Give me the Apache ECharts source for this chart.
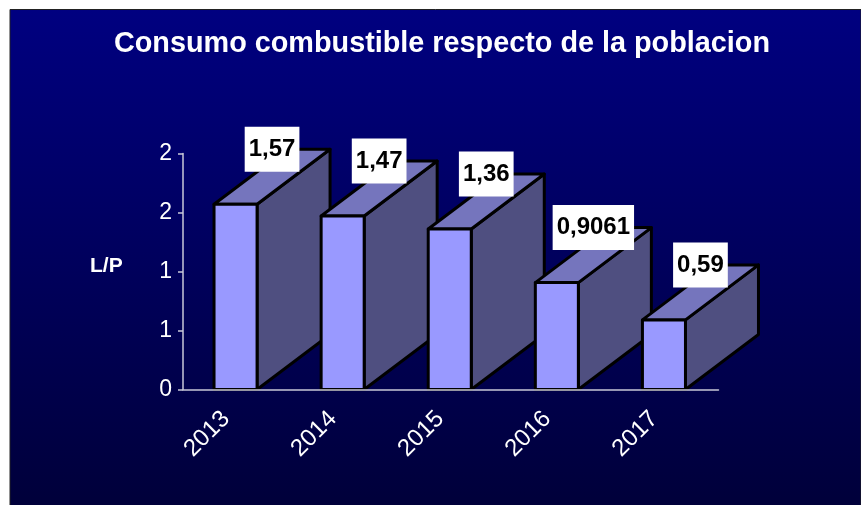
<!DOCTYPE html>
<html>
<head>
<meta charset="utf-8">
<script src="https://cdn.jsdelivr.net/npm/echarts@6/dist/echarts.min.js"></script>
<style>
  html, body { margin: 0; padding: 0; background: #fff; }
  #chart { width: 861px; height: 505px; }
</style>
</head>
<body>
<div id="chart"></div>
<script>
const titleText = "Consumo combustible respecto de la poblacion";
const yAxisName = "L/P";
const years = ["2013", "2014", "2015", "2016", "2017"];
const consumo = [1.57, 1.47, 1.36, 0.9061, 0.59];
const yTickLabels = ["0", "1", "1", "2", "2"];

const FONT = '"Liberation Sans", Arial, sans-serif';
// pseudo 3D offset of the back face, in pixels
const DEPTH_X = 73;
const DEPTH_Y = -55;
const BAR_RATIO = 43 / 107;

var myChart = echarts.init(document.getElementById("chart"));

function renderBar(params, api) {
  const i = api.value(0);
  const top = api.coord([i, api.value(1)]);
  const base = api.coord([i, 0]);
  const w = api.size([1, 0])[0] * BAR_RATIO;
  const x0 = top[0] - w / 2 - 1;
  const x1 = x0 + w;
  const y0 = top[1];
  const y1 = base[1];
  const line = { stroke: "#000", lineWidth: 3, lineJoin: "round" };
  return {
    type: "group",
    children: [
      {
        type: "polygon",
        shape: { points: [[x1, y0], [x1 + DEPTH_X, y0 + DEPTH_Y], [x1 + DEPTH_X, y1 + DEPTH_Y], [x1, y1]] },
        style: Object.assign({ fill: "#4f4f80" }, line),
      },
      {
        type: "polygon",
        shape: { points: [[x0, y0], [x0 + DEPTH_X, y0 + DEPTH_Y], [x1 + DEPTH_X, y0 + DEPTH_Y], [x1, y0]] },
        style: Object.assign({ fill: "#7575bd" }, line),
      },
      {
        type: "rect",
        shape: { x: x0, y: y0, width: w, height: y1 - y0 },
        style: Object.assign({ fill: "#9999ff" }, line),
      },
    ],
  };
}

function renderLabel(params, api) {
  const i = api.value(0);
  const top = api.coord([i, api.value(1)]);
  return {
    type: "text",
    x: top[0] + DEPTH_X / 2 - 1,
    y: top[1] + DEPTH_Y,
    style: {
      text: String(api.value(1)).replace(".", ","),
      font: "bold 24px " + FONT,
      fill: "#000",
      align: "center",
      verticalAlign: "middle",
      backgroundColor: "#fff",
      padding: [10.5, 4],
    },
  };
}

var option = {
  animation: false,
  graphic: [
    {
      type: "rect",
      z: -1,
      shape: { x: 10, y: 9.5, width: 851, height: 496 },
      style: {
        fill: new echarts.graphic.LinearGradient(0, 0, 0, 1, [
          { offset: 0, color: "#000080" },
          { offset: 1, color: "#00003a" },
        ]),
        stroke: "#222",
        lineWidth: 1,
      },
    },
    {
      type: "text",
      left: 90,
      top: 256,
      style: { text: yAxisName, font: "bold 21px " + FONT, fill: "#fff" },
    },
  ],
  title: {
    text: titleText,
    left: 437,
    top: 25,
    textAlign: "center",
    textStyle: { color: "#fff", fontFamily: FONT, fontSize: 28.8, fontWeight: "bold" },
  },
  grid: { left: 183, right: 142.5, top: 153.5, bottom: 115.5 },
  xAxis: {
    type: "category",
    data: years,
    z: 5,
    axisLine: { lineStyle: { color: "#c8c8d8", width: 1.5 } },
    axisTick: { length: 5, alignWithLabel: false, lineStyle: { color: "#c8c8d8", width: 1.5 } },
    axisLabel: { rotate: 45, margin: 15, padding: [0, 15, 0, 0], color: "#fff", fontFamily: FONT, fontSize: 24, interval: 0 },
  },
  yAxis: {
    type: "value",
    min: 0,
    max: 2,
    interval: 0.5,
    splitLine: { show: false },
    axisLine: { show: true, lineStyle: { color: "#c8c8d8", width: 1.5 } },
    axisTick: { show: true, length: 5, lineStyle: { color: "#c8c8d8", width: 1.5 } },
    axisLabel: {
      margin: 11,
      color: "#fff",
      fontFamily: FONT,
      fontSize: 23,
      formatter: function (v) {
        return yTickLabels[Math.round(v / 0.5)];
      },
    },
  },
  series: [
    {
      type: "custom",
      renderItem: renderBar,
      encode: { x: 0, y: 1 },
      data: consumo.map((v, i) => [i, v]),
      z: 2,
    },
    {
      type: "custom",
      renderItem: renderLabel,
      encode: { x: 0, y: 1 },
      data: consumo.map((v, i) => [i, v]),
      z: 6,
    },
  ],
};

option && myChart.setOption(option);
</script>
</body>
</html>
